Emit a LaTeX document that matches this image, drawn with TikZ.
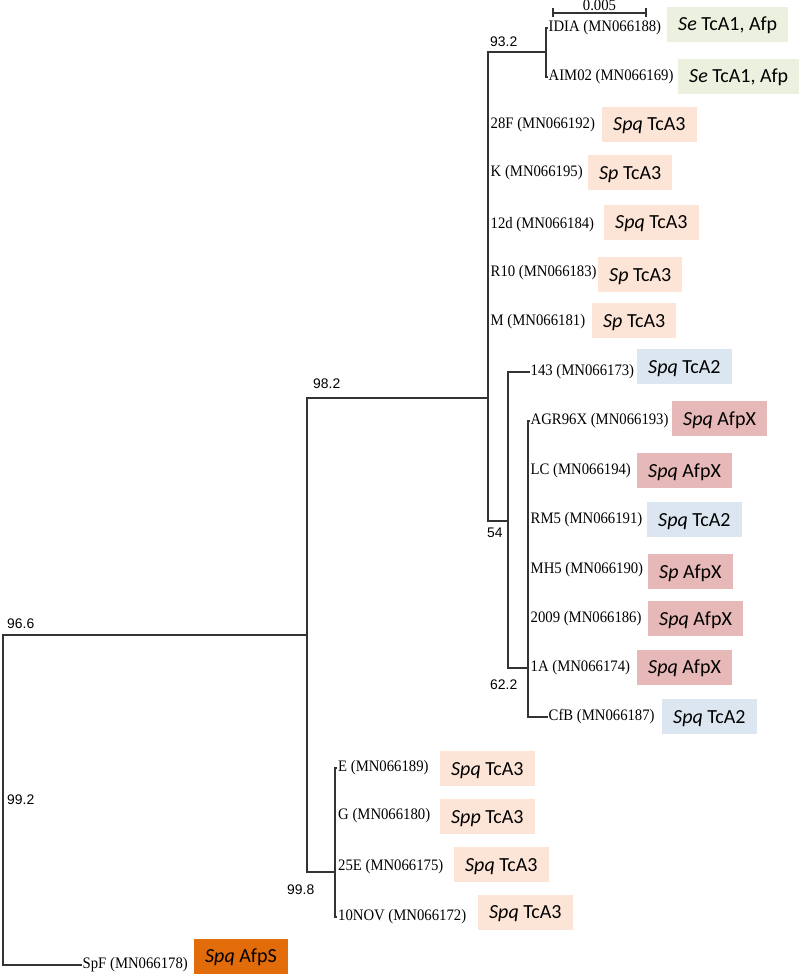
\documentclass[tikz,border=0pt]{standalone}
\usepackage{fontspec}
\setmainfont{Liberation Serif}
\newfontfamily\leaffont[FakeStretch=0.92]{Liberation Serif}
\newfontfamily\calfont{Carlito}
\newfontfamily\arfont{Liberation Sans}
\definecolor{cGreen}{HTML}{EBF1DE}
\definecolor{cPeach}{HTML}{FCE4D6}
\definecolor{cBlue}{HTML}{DCE6F1}
\definecolor{cRed}{HTML}{E6B8B7}
\definecolor{cOrange}{HTML}{E26B0A}
\definecolor{cLine}{HTML}{333333}
\begin{document}
\begin{tikzpicture}[x=1pt,y=-1pt,
  leaf/.style={anchor=west,inner xsep=1pt,inner ysep=0pt,font=\leaffont\fontsize{16}{18}\selectfont},
  tag/.style={anchor=west,inner xsep=11pt,inner ysep=0pt,minimum height=35pt,text height=14pt,text depth=1pt,font=\calfont\fontsize{20}{24}\selectfont},
  tagG/.style={tag,fill=cGreen},
  tagP/.style={tag,fill=cPeach},
  tagB/.style={tag,fill=cBlue},
  tagR/.style={tag,fill=cRed},
  tagO/.style={tag,fill=cOrange},
  boot/.style={anchor=west,inner sep=0pt,font=\arfont\fontsize{13.9}{16}\selectfont},
  branch/.style={draw=cLine,line width=1.4pt}]
\useasboundingbox (0,0) rectangle (800,976);

% leaf labels
\node[leaf] (lIDIA) at (547.5,28) {IDIA (MN066188)};
\node[leaf] (lAIM) at (547.5,77) {AIM02 (MN066169)};
\node[leaf] (l28F) at (489.5,125) {28F (MN066192)};
\node[leaf] (lK) at (489.5,173) {K (MN066195)};
\node[leaf] (l12d) at (489.5,225) {12d (MN066184)};
\node[leaf] (lR10) at (489.5,273) {R10 (MN066183)};
\node[leaf] (lM) at (489.5,322) {M (MN066181)};
\node[leaf] (l143) at (529.5,372) {143 (MN066173)};
\node[leaf] (lAGR) at (529.5,421) {AGR96X (MN066193)};
\node[leaf] (lLC) at (529.5,471) {LC (MN066194)};
\node[leaf] (lRM5) at (529.5,520) {RM5 (MN066191)};
\node[leaf] (lMH5) at (529.5,570) {MH5 (MN066190)};
\node[leaf] (l2009) at (529.5,619) {2009 (MN066186)};
\node[leaf] (l1A) at (529.5,668) {1A (MN066174)};
\node[leaf] (lCfB) at (547.5,717) {CfB (MN066187)};
\node[leaf] (lE) at (337,768) {E (MN066189)};
\node[leaf] (lG) at (337,816) {G (MN066180)};
\node[leaf] (l25E) at (337,867) {25E (MN066175)};
\node[leaf] (l10NOV) at (337,917) {10NOV (MN066172)};
\node[leaf] (lSpF) at (81.5,965) {SpF (MN066178)};

% coloured tags
\node[tagG] (tIDIA) at (667,24.5) {\textit{Se} TcA1, Afp};
\node[tagG] (tAIM) at (678,76.5) {\textit{Se} TcA1, Afp};
\node[tagP] (t28F) at (602,124.5) {\textit{Spq} TcA3};
\node[tagP] (tK) at (588,173) {\textit{Sp} TcA3};
\node[tagP] (t12d) at (604,222.5) {\textit{Spq} TcA3};
\node[tagP] (tR10) at (598,274.5) {\textit{Sp} TcA3};
\node[tagP] (tM) at (592,320.5) {\textit{Sp} TcA3};
\node[tagB] (t143) at (637,366.5) {\textit{Spq} TcA2};
\node[tagR] (tAGR) at (672,418.5) {\textit{Spq} AfpX};
\node[tagR] (tLC) at (637,470.5) {\textit{Spq} AfpX};
\node[tagB] (tRM5) at (647,519.5) {\textit{Spq} TcA2};
\node[tagR] (tMH5) at (648,571.5) {\textit{Sp} AfpX};
\node[tagR] (t2009) at (648,618.5) {\textit{Spq} AfpX};
\node[tagR] (t1A) at (637,667) {\textit{Spq} AfpX};
\node[tagB] (tCfB) at (662,716.5) {\textit{Spq} TcA2};
\node[tagP] (tE) at (440,768.5) {\textit{Spq} TcA3};
\node[tagP] (tG) at (440,816.5) {\textit{Spp} TcA3};
\node[tagP] (t25E) at (454,864.5) {\textit{Spq} TcA3};
\node[tagP] (t10NOV) at (478,912) {\textit{Spq} TcA3};
\node[tagO] (tSpF) at (194,956) {\textit{Spq} AfpS};

% internal nodes
\coordinate (nRoot) at (3,635);
\coordinate (nB) at (307,635);
\coordinate (nC) at (488,398);
\coordinate (nD) at (335,872);
\coordinate (nE) at (546,52);
\coordinate (nF) at (508,521);
\coordinate (nG) at (528,668);

% branches
\draw[branch] (nB) -- (nRoot) |- (lSpF.west);
\draw[branch] (nC) -| (nB) |- (nD);
\draw[branch] (nE) -| (nC) |- (nF);
\draw[branch] (lIDIA.west) -| (nE) |- (lAIM.west);
\draw[branch] (l143.west) -| (nF) |- (nG);
\draw[branch] (lAGR.west) -| (nG) |- (lCfB.west);
\draw[branch] (lE.west) -| (nD) |- (l10NOV.west);

% bootstrap values
\node[boot] (b932) at (490,42) {93.2};
\node[boot] (b982) at (313,384) {98.2};
\node[boot] (b966) at (7,624) {96.6};
\node[boot] (b992) at (7,800) {99.2};
\node[boot] (b54) at (487,533) {54};
\node[boot] (b622) at (490,685) {62.2};
\node[boot] (b998) at (287,890) {99.8};

% scale bar
\coordinate (sbL) at (553,13);
\coordinate (sbR) at (646,13);
\draw[branch,line width=1.2pt] (sbL) -- (sbR);
\draw[branch,line width=1.2pt] ([yshift=4.5pt]sbL) -- ([yshift=-4.5pt]sbL);
\draw[branch,line width=1.2pt] ([yshift=4.5pt]sbR) -- ([yshift=-4.5pt]sbR);
\node[anchor=base,inner sep=0pt,font=\leaffont\fontsize{16}{18}\selectfont] (sbT) at (599.5,11) {0.005};
\end{tikzpicture}
\end{document}
